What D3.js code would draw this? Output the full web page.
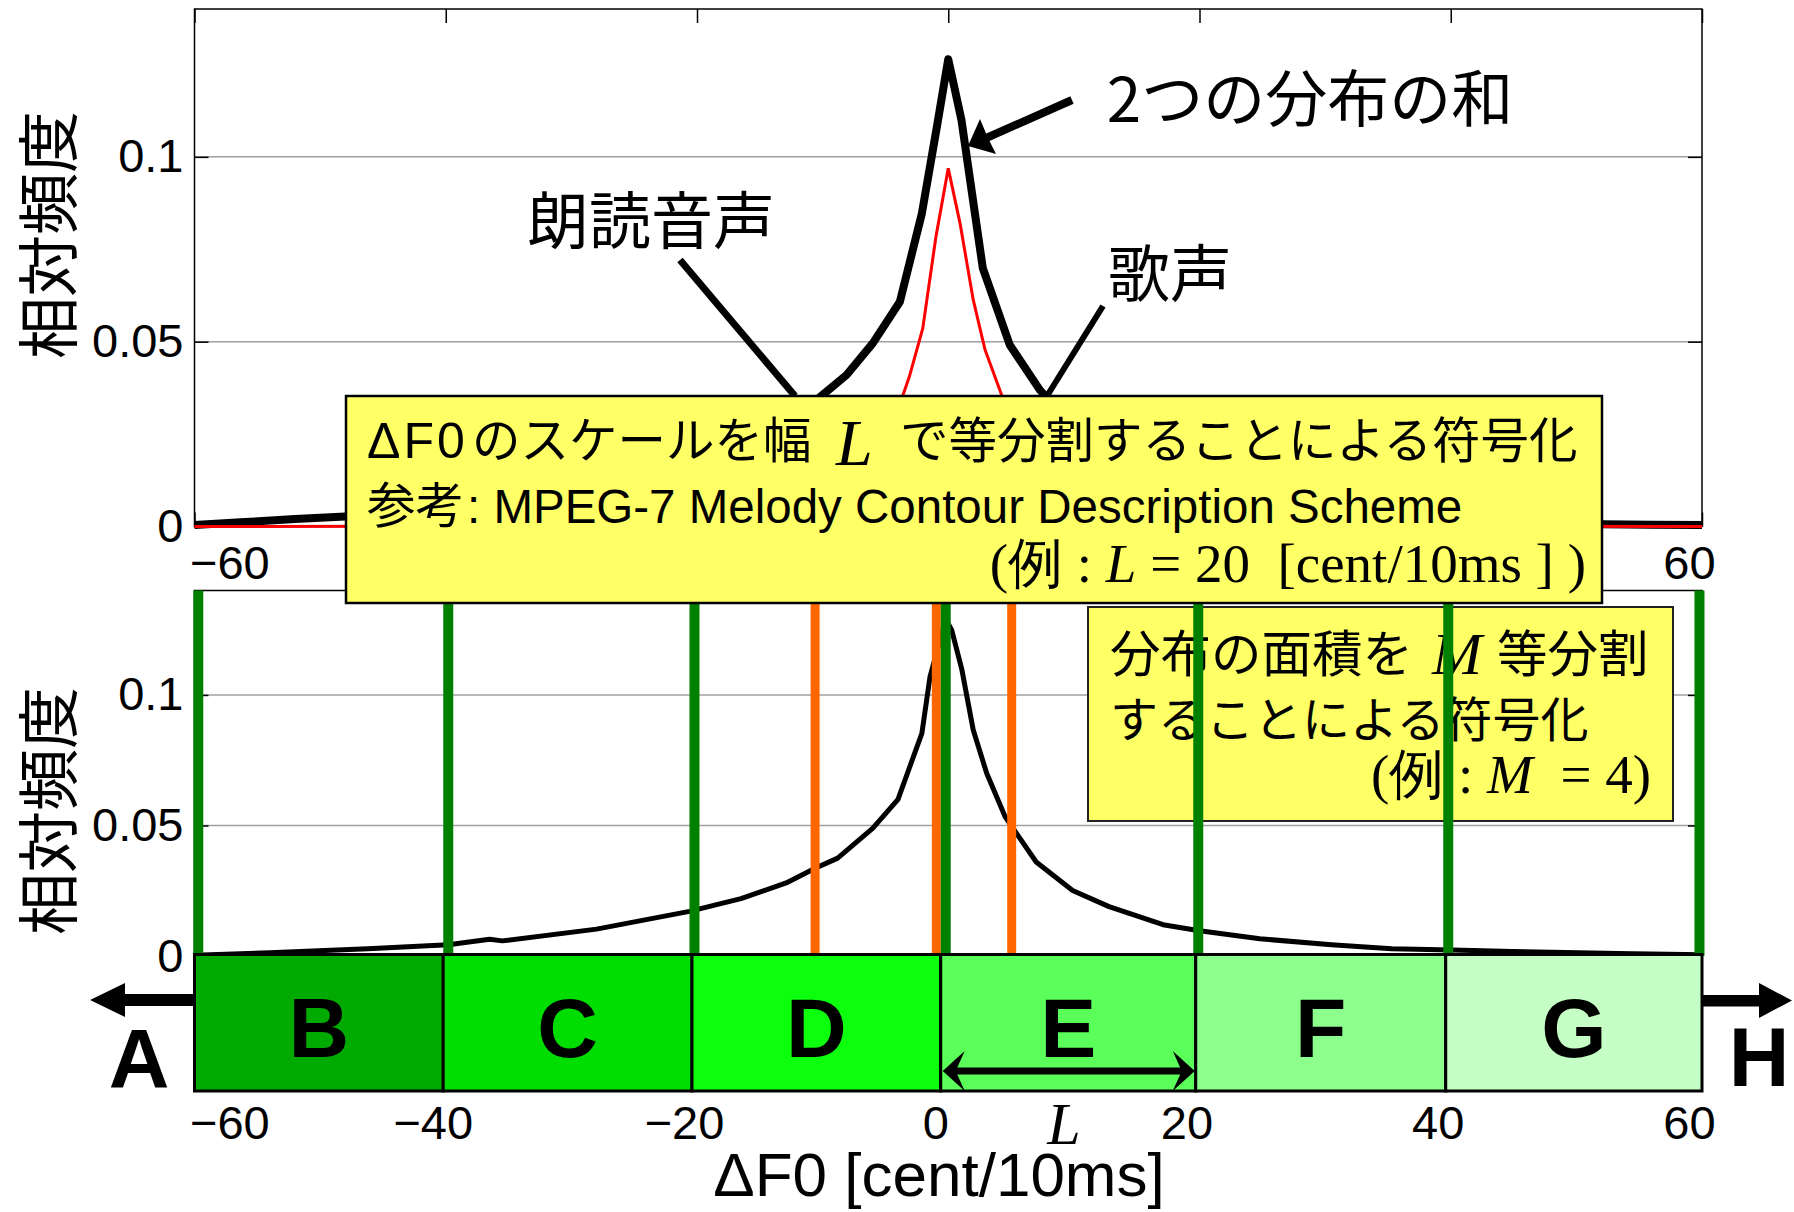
<!DOCTYPE html>
<html>
<head>
<meta charset="utf-8">
<script src="https://cdn.jsdelivr.net/npm/d3@7"></script>
<style>
  body { margin: 0; background: #fff; }
  svg { display: block; }
  text { white-space: pre; }
</style>
</head>
<body>
<div id="container"></div>
<script>
// Axis values
const xTicks = [-60, -40, -20, 0, 20, 40, 60];
const yTicks = [0, 0.05, 0.1];

// Top plot: sum of the two distributions (black) and the narrow one (red)
const sumX = [-60, -56, -52, -48, -40, -30, -20, -14, -10, -8.1, -6, -3.85, -2.1, -0.9, 0, 1.05, 2.75, 4.9, 7.3, 10, 14, 20, 30, 40, 48, 52, 56, 60];
const sumY = [0.0004, 0.0012, 0.002, 0.0027, 0.0045, 0.009, 0.016, 0.024, 0.0356, 0.041, 0.0496, 0.0608, 0.0847, 0.1082, 0.1264, 0.110, 0.0699, 0.0491, 0.0369, 0.027, 0.018, 0.010, 0.004, 0.002, 0.0008, 0.0006, 0.0005, 0.0004];
const redX = [-60, -30, -15, -8, -5.5, -3.6, -3.1, -2.03, -0.98, 0, 0.94, 1.99, 2.93, 4.25, 6, 8.5, 15, 30, 60];
const redY = [0, 0.0002, 0.001, 0.006, 0.02, 0.0356, 0.0405, 0.0536, 0.0784, 0.0969, 0.082, 0.0613, 0.0478, 0.0356, 0.02, 0.007, 0.001, 0.0002, 0];

// Bottom plot: summed distribution
const botX = [-60, -54, -46.2, -39.8, -36.5, -35.5, -28, -20.6, -16.5, -12.9, -10.6, -8.8, -6, -4, -2.1, -1.45, -0.2, 0.27, 1.07, 1.99, 3.06, 4.52, 7, 9.9, 12.8, 17.1, 20, 24.8, 30.5, 35.3, 40.1, 44.9, 54.5, 60];
const botY = [0.0003, 0.0012, 0.0028, 0.0043, 0.0064, 0.0058, 0.0103, 0.0171, 0.022, 0.028, 0.0336, 0.0375, 0.049, 0.06, 0.0853, 0.107, 0.129, 0.1249, 0.11, 0.0866, 0.07, 0.0534, 0.036, 0.0251, 0.0189, 0.012, 0.0097, 0.0066, 0.0043, 0.0028, 0.0023, 0.0017, 0.0009, 0.0005];

// Partition lines: equal width L (green), equal area M (orange)
const widthBounds = [-59.7, -39.8, -20.2, -0.2, 19.9, 39.8, 59.8];
const areaBounds = [-10.6, -0.95, 5.05];

// Code bands
const codeLabels = ["B", "C", "D", "E", "F", "G"];
const codeEdges = [-60, -40.2, -20.4, -0.6, 19.7, 39.6, 60];
const codeColors = ["#00aa00", "#00dd00", "#0cff0c", "#5aff5a", "#8cff8c", "#c6ffc6"];

const SANS = "'Liberation Sans', Arial, sans-serif";
const CJK = "'Noto Sans CJK JP', sans-serif";
const SERIF = "'Liberation Serif', 'Times New Roman', serif";

const svg = d3.select("#container")
  .append("svg")
  .attr("width", 1794)
  .attr("height", 1212);

// Scales
const x = d3.scaleLinear().domain([-60, 60]).range([194.5, 1702]);
const yTop = d3.scaleLinear().domain([0, 0.14]).range([526.5, 9]);
const yBot = d3.scaleLinear().domain([0, 0.14]).range([956, 590.5]);

const fmtY = d3.format("~g");
const fmtX = d3.format("d");
// the top plot only shows its end labels, the rest sit under the yellow box
const fmtXEnds = d => (d === -60 || d === 60) ? fmtX(d) : "";

// Draws grid, frame and inward ticks of one plot
function drawAxes(g, y, withXLabels) {
  g.selectAll("line.grid")
    .data(yTicks.filter(d => d > 0))
    .join("line")
    .attr("class", "grid")
    .attr("x1", x(-60)).attr("x2", x(60))
    .attr("y1", d => y(d)).attr("y2", d => y(d))
    .attr("stroke", "#a0a0a0")
    .attr("stroke-width", 1.5);

  g.append("rect")
    .attr("x", x(-60)).attr("y", y(0.14))
    .attr("width", x(60) - x(-60)).attr("height", y(0) - y(0.14))
    .attr("fill", "none").attr("stroke", "#000").attr("stroke-width", 1.5);

  const left = g.append("g")
    .attr("transform", "translate(" + x(-60) + ",0)")
    .call(d3.axisLeft(y).tickValues(yTicks).tickSize(-14).tickPadding(11).tickFormat(fmtY));
  const right = g.append("g")
    .attr("transform", "translate(" + x(60) + ",0)")
    .call(d3.axisRight(y).tickValues(yTicks).tickSize(-14).tickFormat(""));
  const topAx = g.append("g")
    .attr("transform", "translate(0," + y(0.14) + ")")
    .call(d3.axisTop(x).tickValues(xTicks).tickSize(-14).tickFormat(""));
  const axes = [left, right, topAx];

  if (withXLabels) {
    const bottom = g.append("g")
      .attr("transform", "translate(0," + y(0) + ")")
      .call(d3.axisBottom(x).tickValues(xTicks).tickSize(-14).tickPadding(19.5).tickFormat(fmtXEnds));
    placeXLabels(bottom);
    axes.push(bottom);
  }

  axes.forEach(a => {
    a.attr("font-size", 47).attr("font-family", SANS);
    a.select(".domain").remove();
    a.selectAll("line").attr("stroke", "#000").attr("stroke-width", 1.5);
    a.selectAll("text").attr("fill", "#000");
  });
}

// x tick labels sit a little left of their ticks; the first one starts at the frame
function placeXLabels(a) {
  a.selectAll("text")
    .attr("x", (d, i) => i === 0 ? -5 : -13)
    .attr("text-anchor", (d, i) => i === 0 ? "start" : "middle");
}

function yTitle(cy) {
  svg.append("text")
    .attr("transform", "translate(44.5," + cy + ") rotate(-90)")
    .attr("text-anchor", "middle")
    .attr("dominant-baseline", "central")
    .attr("font-family", CJK)
    .attr("font-size", 62)
    .text("相対頻度");
}

// ---------- Top plot ----------
const topG = svg.append("g");
drawAxes(topG, yTop, true);

topG.append("path")
  .datum(d3.zip(sumX, sumY))
  .attr("d", d3.line().x(d => x(d[0])).y(d => yTop(d[1])))
  .attr("fill", "none").attr("stroke", "#000").attr("stroke-width", 8)
  .attr("stroke-linejoin", "round");

topG.append("path")
  .datum(d3.zip(redX, redY))
  .attr("d", d3.line().x(d => x(d[0])).y(d => yTop(d[1])))
  .attr("fill", "none").attr("stroke", "#ff0000").attr("stroke-width", 3);

yTitle(235);

// annotations of the top plot
topG.append("line")
  .attr("x1", 680).attr("y1", 260).attr("x2", 795).attr("y2", 396)
  .attr("stroke", "#000").attr("stroke-width", 7);
topG.append("line")
  .attr("x1", 1103).attr("y1", 306).attr("x2", 1047).attr("y2", 396)
  .attr("stroke", "#000").attr("stroke-width", 6);
topG.append("line")
  .attr("x1", 1072).attr("y1", 100).attr("x2", 984).attr("y2", 139)
  .attr("stroke", "#000").attr("stroke-width", 8);
topG.append("path")
  .attr("d", "M968,146 L980,119 L988,138 L996,154 Z")
  .attr("fill", "#000");

const topNotes = [
  { t: "2つの分布の和", cx: 1310, by: 122 },
  { t: "朗読音声", cx: 651, by: 244 },
  { t: "歌声", cx: 1170, by: 297 }
];
topG.selectAll("text.note")
  .data(topNotes)
  .join("text")
  .attr("class", "note")
  .attr("x", d => d.cx).attr("y", d => d.by)
  .attr("text-anchor", "middle")
  .attr("font-family", CJK).attr("font-size", 62)
  .text(d => d.t);

// ---------- Bottom plot ----------
const botG = svg.append("g");
drawAxes(botG, yBot, false);

botG.append("path")
  .datum(d3.zip(botX, botY))
  .attr("d", d3.line().x(d => x(d[0])).y(d => yBot(d[1])))
  .attr("fill", "none").attr("stroke", "#000").attr("stroke-width", 5)
  .attr("stroke-linejoin", "round");

yTitle(811);

// box explaining the equal-area coding
const box2 = svg.append("g");
box2.append("rect")
  .attr("x", 1088).attr("y", 607).attr("width", 585).attr("height", 214)
  .attr("fill", "#ffff66").attr("stroke", "#222").attr("stroke-width", 2);
const b2l1 = box2.append("text").attr("y", 672).attr("font-family", CJK).attr("font-size", 50.5);
b2l1.append("tspan").attr("x", 1110).text("分布の面積を");
b2l1.append("tspan").attr("x", 1432).attr("font-family", SERIF).attr("font-style", "italic").attr("font-size", 60).attr("dy", 2).text("M");
b2l1.append("tspan").attr("x", 1497).attr("dy", -2).text("等分割");
box2.append("text")
  .attr("x", 1110).attr("y", 737)
  .attr("font-family", CJK).attr("font-size", 48)
  .text("することによる符号化");
const b2l3 = box2.append("text")
  .attr("x", 1651).attr("y", 793)
  .attr("text-anchor", "end")
  .attr("font-family", SERIF).attr("font-size", 55);
b2l3.append("tspan").text("(例 : ");
b2l3.append("tspan").attr("font-style", "italic").text("M");
b2l3.append("tspan").text("  = 4)");

// partition lines
botG.selectAll("line.mline")
  .data(areaBounds)
  .join("line")
  .attr("class", "mline")
  .attr("x1", d => x(d)).attr("x2", d => x(d))
  .attr("y1", yBot(0.14)).attr("y2", yBot(0))
  .attr("stroke", "#ff6600").attr("stroke-width", 9);
svg.selectAll("line.lline")
  .data(widthBounds)
  .join("line")
  .attr("class", "lline")
  .attr("x1", d => x(d)).attr("x2", d => x(d))
  .attr("y1", yBot(0.14)).attr("y2", yBot(0))
  .attr("stroke", "#008000").attr("stroke-width", 10);

// code bands
const bands = svg.append("g");
const bandTop = yBot(0) - 1.5;
const bandBottom = 1091;
bands.selectAll("rect")
  .data(codeLabels)
  .join("rect")
  .attr("x", (d, i) => x(codeEdges[i]))
  .attr("width", (d, i) => x(codeEdges[i + 1]) - x(codeEdges[i]))
  .attr("y", bandTop).attr("height", bandBottom - bandTop)
  .attr("fill", (d, i) => codeColors[i])
  .attr("stroke", "#000").attr("stroke-width", 3);
bands.selectAll("text")
  .data(codeLabels)
  .join("text")
  .attr("x", (d, i) => (x(codeEdges[i]) + x(codeEdges[i + 1])) / 2)
  .attr("y", 1057)
  .attr("text-anchor", "middle")
  .attr("font-family", SANS).attr("font-weight", "bold").attr("font-size", 84)
  .text(d => d);

// outer arrows to A and H
const xl = x(-60), xr = x(60);
bands.append("path")
  .attr("d", `M${xl},994 L125,994 L125,983 L90,1000 L125,1017 L125,1006 L${xl},1006 Z`)
  .attr("fill", "#000");
bands.append("path")
  .attr("d", `M${xr},995 L1759,995 L1759,983 L1792,1000.5 L1759,1018 L1759,1006.5 L${xr},1006.5 Z`)
  .attr("fill", "#000");
bands.append("text").attr("x", 139).attr("y", 1088)
  .attr("text-anchor", "middle").attr("font-family", SANS).attr("font-weight", "bold").attr("font-size", 84)
  .text("A");
bands.append("text").attr("x", 1759).attr("y", 1086)
  .attr("text-anchor", "middle").attr("font-family", SANS).attr("font-weight", "bold").attr("font-size", 84)
  .text("H");

// width-L double arrow inside band E
const e0 = x(codeEdges[3]) + 2, e1 = x(codeEdges[4]) - 1;
bands.append("line")
  .attr("x1", e0 + 10).attr("x2", e1 - 10).attr("y1", 1071).attr("y2", 1071)
  .attr("stroke", "#000").attr("stroke-width", 7);
bands.append("path")
  .attr("d", `M${e0},1071 L${e0 + 22},1051 L${e0 + 13},1071 L${e0 + 22},1091 Z`)
  .attr("fill", "#000");
bands.append("path")
  .attr("d", `M${e1},1071 L${e1 - 22},1051 L${e1 - 13},1071 L${e1 - 22},1091 Z`)
  .attr("fill", "#000");
bands.append("text")
  .attr("x", 1064).attr("y", 1144)
  .attr("text-anchor", "middle")
  .attr("font-family", SERIF).attr("font-style", "italic").attr("font-size", 60)
  .text("L");

// x tick labels under the bands
const xLab = svg.append("g")
  .attr("transform", "translate(0," + bandBottom + ")")
  .call(d3.axisBottom(x).tickValues(xTicks).tickSize(0).tickPadding(15).tickFormat(fmtX))
  .attr("font-size", 47).attr("font-family", SANS);
xLab.select(".domain").remove();
xLab.selectAll("text").attr("fill", "#000");
placeXLabels(xLab);

svg.append("text")
  .attr("x", 939).attr("y", 1196)
  .attr("text-anchor", "middle")
  .attr("font-family", SANS).attr("font-size", 62)
  .text("ΔF0 [cent/10ms]");

// box explaining the equal-width coding (drawn last, it covers both plots)
const box1 = svg.append("g");
box1.append("rect")
  .attr("x", 346).attr("y", 396).attr("width", 1256).attr("height", 207)
  .attr("fill", "#ffff66").attr("stroke", "#000").attr("stroke-width", 2.5);
const b1l1 = box1.append("text").attr("y", 458).attr("font-family", CJK).attr("font-size", 48.5);
b1l1.append("tspan").attr("x", 367).attr("font-family", SANS).attr("font-size", 50).attr("letter-spacing", 3).text("ΔF0");
b1l1.append("tspan").attr("x", 472).text("のスケールを幅");
b1l1.append("tspan").attr("x", 836).attr("font-family", SERIF).attr("font-style", "italic").attr("font-size", 66).attr("dy", 7).text("L");
b1l1.append("tspan").attr("x", 900).attr("dy", -7).text("で等分割することによる符号化");
const b1l2 = box1.append("text").attr("y", 523).attr("font-family", CJK).attr("font-size", 48.5);
b1l2.append("tspan").attr("x", 367).text("参考");
b1l2.append("tspan").attr("x", 467).attr("font-family", SANS).attr("font-size", 47.5).text(": MPEG-7 Melody Contour Description Scheme");
const b1l3 = box1.append("text")
  .attr("x", 1586).attr("y", 582)
  .attr("text-anchor", "end")
  .attr("font-family", SERIF).attr("font-size", 55);
b1l3.append("tspan").text("(例 : ");
b1l3.append("tspan").attr("font-style", "italic").text("L");
b1l3.append("tspan").text(" = 20  [cent/10ms ] )");
</script>
</body>
</html>
